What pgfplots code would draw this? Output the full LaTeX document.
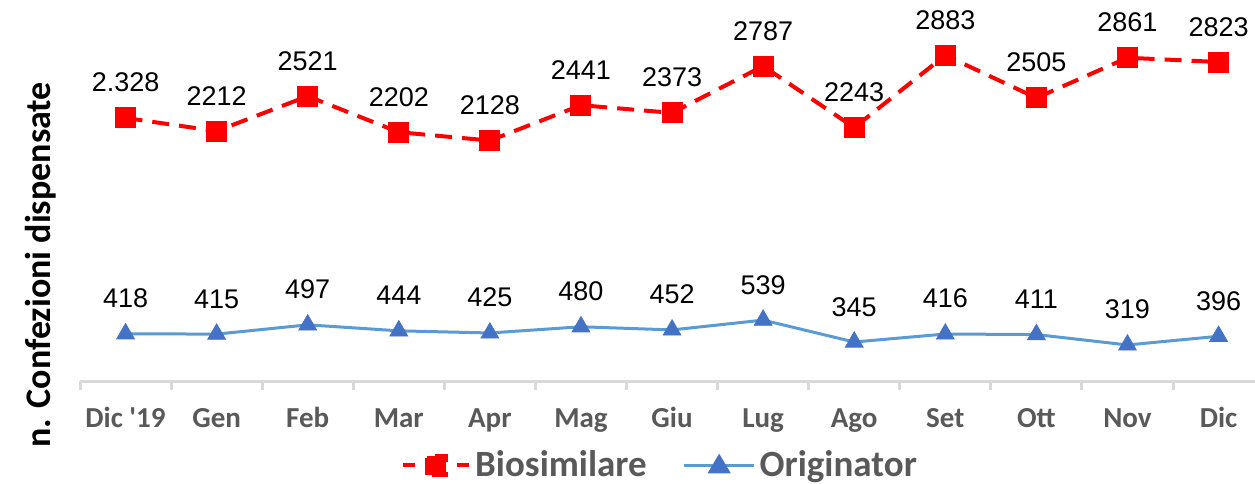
\documentclass[border=0pt]{standalone}
\usepackage{fontspec}
\setmainfont{Carlito}
\newfontfamily\arialf{Liberation Sans}
\usepackage{pgfplots}
\pgfplotsset{compat=1.18}
\usepackage{pgfplotstable}
\definecolor{bio}{HTML}{FF0000}
\definecolor{origline}{HTML}{5B9BD5}
\definecolor{origmark}{HTML}{4472C4}
\definecolor{axgray}{HTML}{D9D9D9}
\definecolor{txtgray}{HTML}{595959}

\pgfplotstableread{
x y lab
0 2328 2.328
1 2212 2212
2 2521 2521
3 2202 2202
4 2128 2128
5 2441 2441
6 2373 2373
7 2787 2787
8 2243 2243
9 2883 2883
10 2505 2505
11 2861 2861
12 2823 2823
}\biotab

\pgfplotstableread{
x y lab
0 418 418
1 415 415
2 497 497
3 444 444
4 425 425
5 480 480
6 452 452
7 539 539
8 345 345
9 416 416
10 411 411
11 319 319
12 396 396
}\origtab

\begin{document}
\begin{tikzpicture}
\path[use as bounding box] (0,0) rectangle (627.5pt,241.5pt);
\node[rotate=90, anchor=base, inner sep=0pt, font=\bfseries\fontsize{18}{20}\selectfont, text=black] at (25pt,109pt) {n. Confezioni dispensate};
\begin{axis}[
  at={(40pt,51pt)}, anchor=south west,
  scale only axis, width=587.5pt, height=190.5pt,
  xmin=-0.5, xmax=12.4, ymin=0, ymax=3372,
  axis x line*=bottom, axis y line=none,
  x axis line style={-, draw=axgray, line width=1.5pt},
  xtick={0,...,12},
  xticklabels={Dic \textquotesingle19,Gen,Feb,Mar,Apr,Mag,Giu,Lug,Ago,Set,Ott,Nov,Dic},
  major tick length=0pt,
  xticklabel style={anchor=base, yshift=-23pt, inner sep=0pt, text=txtgray, font=\bfseries\fontsize{14.5}{16}\selectfont},
  extra x ticks={-0.5,0.5,1.5,2.5,3.5,4.5,5.5,6.5,7.5,8.5,9.5,10.5,11.5},
  extra x tick labels={},
  extra x tick style={major tick length=4.5pt, tick align=outside, tick style={draw=axgray, line width=1.5pt}},
  ytick=\empty,
  clip=false,
  nodes near coords,
  point meta=explicit symbolic,
  every node near coord/.append style={anchor=base, yshift=13pt, inner sep=0pt, text=black, font=\arialf\fontsize{13.5}{15}\selectfont},
  legend style={at={(axis description cs:0.4945,-0.2205)}, anchor=center, draw=none, fill=none,
    legend columns=2, font=\bfseries\fontsize{18.5}{21}\selectfont, text=txtgray,
    /tikz/every even column/.append style={column sep=16pt},
    nodes={inner sep=2pt}},
  legend cell align=left,
]
\addplot[color=bio, line width=2pt, dash pattern=on 8.5pt off 5pt, mark=square*, mark size=5pt,
  mark options={solid, fill=bio, draw=bio, line width=0.5pt},
  legend image code/.code={
    \draw[bio, solid, line width=2pt] (0pt,0pt) -- (6pt,0pt);
    \draw[bio, solid, line width=2pt] (27pt,0pt) -- (33pt,0pt);
    \fill[bio] (11.75pt,-4.75pt) rectangle (21.25pt,4.75pt);
  }]
  table[x=x, y=y, meta=lab] {\biotab};
\addlegendentry{Biosimilare}
\addplot[color=origline, line width=1.5pt, mark=triangle*, mark size=5.2pt,
  mark options={solid, fill=origmark, draw=origmark, line width=0.3pt},
  legend image code/.code={
    \draw[origline, line width=1.5pt] (0pt,0pt) -- (35pt,0pt);
    \fill[origmark] (17.5pt,4.2pt) -- (22pt,-3.4pt) -- (13pt,-3.4pt) -- cycle;
  }]
  table[x=x, y=y, meta=lab] {\origtab};
\addlegendentry{Originator}
\end{axis}
\end{tikzpicture}
\end{document}
